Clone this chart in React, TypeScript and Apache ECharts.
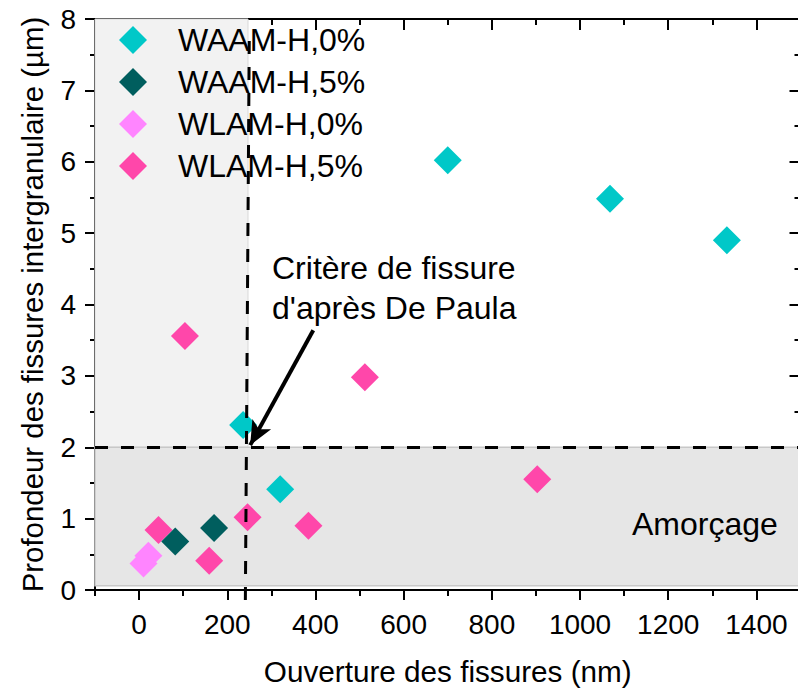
import React, { useEffect, useRef } from "react";
import * as echarts from "echarts";

const FONT = "'Liberation Sans', Arial, Helvetica, sans-serif";

const seriesNames = ["WAAM-H,0%", "WAAM-H,5%", "WLAM-H,0%", "WLAM-H,5%"];
const seriesColors = ["#00c8c8", "#005e5e", "#ff85ff", "#ff47aa"];

const waam0: [number, number][] = [
  [700, 6.02],
  [1068, 5.48],
  [1333, 4.9],
  [236, 2.31],
  [320, 1.41],
];
const waam5: [number, number][] = [
  [82, 0.68],
  [170, 0.87],
];
const wlam0: [number, number][] = [
  [10, 0.37],
  [21, 0.48],
];
const wlam5: [number, number][] = [
  [104, 3.56],
  [512, 2.98],
  [903, 1.55],
  [44, 0.84],
  [159, 0.41],
  [246, 1.02],
  [384, 0.9],
];

const xMajorTicks = [0, 200, 400, 600, 800, 1000, 1200, 1400];
const xMinorTicks = [-100, 100, 300, 500, 700, 900, 1100, 1300, 1500];

const xRange = { min: -100, max: 1500 };
const yRange = { min: 0, max: 8, interval: 1 };

const criterionX = 247;
const criterionY = 2;
const amorcageBottom = 0.06;
const criterionLine: [number, number][] = [
  [241, -0.14],
  [250, 7.85],
];
const arrowStart: [number, number] = [395, 3.64];
const arrowEnd: [number, number] = [252, 2.03];

export default function App() {
  const ref = useRef<HTMLDivElement>(null);

  useEffect(() => {
    if (!ref.current) return;
    const chart = echarts.init(ref.current, undefined, { renderer: "svg" });

    const black = "#000";
    const axisLine = { show: true, onZero: false, lineStyle: { color: black, width: 2 } };
    const noLine = { show: false, onZero: false };
    const tickStyle = { color: black, width: 2 };

    const scatter = (name: string, data: [number, number][], color: string, z: number) => ({
      name,
      type: "scatter",
      data,
      symbol: "diamond",
      symbolSize: 28,
      itemStyle: { color, opacity: 1 },
      z,
      xAxisIndex: 0,
      yAxisIndex: 0,
    });

    const xBase = {
      type: "value",
      min: xRange.min,
      max: xRange.max,
      interval: 100,
      splitLine: { show: false },
    };
    const yBase = {
      type: "value",
      min: yRange.min,
      max: yRange.max,
      interval: yRange.interval,
      splitLine: { show: false },
      minorSplitLine: { show: false },
    };

    const option: any = {
      animation: false,
      backgroundColor: "#fff",
      grid: { left: 95, right: 5.5, top: 19, bottom: 101, containLabel: false },
      legend: {
        data: seriesNames.map((n) => ({ name: n, icon: "diamond" })),
        orient: "vertical",
        left: 119,
        top: 24,
        itemWidth: 28,
        itemHeight: 28,
        itemGap: 10,
        padding: 0,
        textStyle: {
          fontFamily: FONT,
          fontSize: 32,
          color: black,
          lineHeight: 30,
          padding: [0, 0, 0, 26],
        },
        selectedMode: false,
      },
      xAxis: [
        {
          ...xBase,
          position: "bottom",
          axisLine,
          axisTick: { show: true, length: 10, customValues: xMajorTicks, lineStyle: tickStyle },
          axisLabel: {
            customValues: xMajorTicks,
            formatter: (v: number) => String(v),
            fontFamily: FONT,
            fontSize: 28,
            color: black,
            margin: 20,
          },
          name: "Ouverture des fissures (nm)",
          nameLocation: "middle",
          nameGap: 66,
          nameTextStyle: { fontFamily: FONT, fontSize: 29.7, color: black },
        },
        {
          ...xBase,
          position: "bottom",
          axisLine: noLine,
          axisTick: { show: true, length: 6, customValues: xMinorTicks, lineStyle: tickStyle },
          axisLabel: { show: false },
        },
        {
          ...xBase,
          position: "top",
          axisLine,
          axisTick: { show: true, inside: true, length: 11, customValues: xMajorTicks, lineStyle: tickStyle },
          axisLabel: { show: false },
        },
        {
          ...xBase,
          position: "top",
          axisLine: noLine,
          axisTick: { show: true, inside: true, length: 6, customValues: xMinorTicks, lineStyle: tickStyle },
          axisLabel: { show: false },
        },
      ],
      yAxis: [
        {
          ...yBase,
          position: "left",
          axisLine,
          axisTick: { show: true, length: 10, lineStyle: tickStyle },
          minorTick: { show: true, splitNumber: 2, length: 5, lineStyle: tickStyle },
          axisLabel: { fontFamily: FONT, fontSize: 28, color: black, margin: 19 },
          name: "Profondeur des fissures intergranulaire (µm)",
          nameLocation: "middle",
          nameGap: 48,
          nameTextStyle: { fontFamily: FONT, fontSize: 29.4, color: black },
        },
        {
          ...yBase,
          position: "right",
          axisLine,
          axisTick: { show: true, inside: true, length: 11, lineStyle: tickStyle },
          minorTick: { show: true, splitNumber: 2, length: 6, lineStyle: tickStyle },
          axisLabel: { show: false },
        },
      ],
      series: [
        {
          name: "zones",
          type: "scatter",
          data: [],
          xAxisIndex: 0,
          yAxisIndex: 0,
          z: 1,
          silent: true,
          markArea: {
            silent: true,
            data: [
              [
                {
                  coord: [xRange.min, criterionY],
                  itemStyle: { color: "#f2f2f2", borderColor: "#d9d9d9", borderWidth: 1 },
                },
                { coord: [criterionX, yRange.max] },
              ],
              [
                {
                  coord: [xRange.min, amorcageBottom],
                  itemStyle: { color: "#e6e6e6", borderColor: "#c8c8c8", borderWidth: 1.5 },
                },
                { coord: [xRange.max, criterionY] },
              ],
            ],
          },
        },
        { name: "bind1", type: "scatter", data: [], xAxisIndex: 1, yAxisIndex: 1, silent: true },
        { name: "bind2", type: "scatter", data: [], xAxisIndex: 2, yAxisIndex: 1, silent: true },
        { name: "bind3", type: "scatter", data: [], xAxisIndex: 3, yAxisIndex: 1, silent: true },
        scatter(seriesNames[0], waam0, seriesColors[0], 3),
        scatter(seriesNames[3], wlam5, seriesColors[3], 3),
        scatter(seriesNames[2], wlam0, seriesColors[2], 3),
        scatter(seriesNames[1], waam5, seriesColors[1], 4),
        {
          name: "criterion",
          type: "line",
          data: criterionLine,
          xAxisIndex: 0,
          yAxisIndex: 0,
          clip: false,
          symbol: "none",
          silent: true,
          z: 5,
          lineStyle: { color: black, width: 3, type: [13, 13] },
        },
        {
          name: "lines",
          type: "scatter",
          data: [],
          xAxisIndex: 0,
          yAxisIndex: 0,
          z: 5,
          silent: true,
          markLine: {
            silent: true,
            symbol: ["none", "none"],
            label: { show: false },
            lineStyle: { color: black, width: 3, type: [13, 13] },
            data: [
              [{ coord: [xRange.min, criterionY] }, { coord: [xRange.max, criterionY] }],
              [
                {
                  coord: arrowStart,
                  symbol: "none",
                  lineStyle: { color: black, width: 4, type: "solid" },
                },
                { coord: arrowEnd, symbol: "arrow", symbolSize: [16, 24] },
              ],
            ],
          },
        },
      ],
      graphic: [
        {
          type: "text",
          left: 272,
          top: 248,
          z: 10,
          style: {
            text: "Critère de fissure\nd'après De Paula",
            fontSize: 32,
            fontFamily: FONT,
            lineHeight: 40,
            fill: black,
          },
        },
        {
          type: "text",
          left: 632,
          top: 504,
          z: 10,
          style: {
            text: "Amorçage",
            fontSize: 32,
            fontFamily: FONT,
            lineHeight: 40,
            fill: black,
          },
        },
      ],
    };

    chart.setOption(option);
    return () => chart.dispose();
  }, []);

  return (
    <div
      style={{
        position: "fixed",
        left: 0,
        top: 0,
        width: 798,
        height: 691,
        overflow: "hidden",
        background: "#fff",
      }}
    >
      <div ref={ref} style={{ width: 806, height: 691 }} />
    </div>
  );
}
